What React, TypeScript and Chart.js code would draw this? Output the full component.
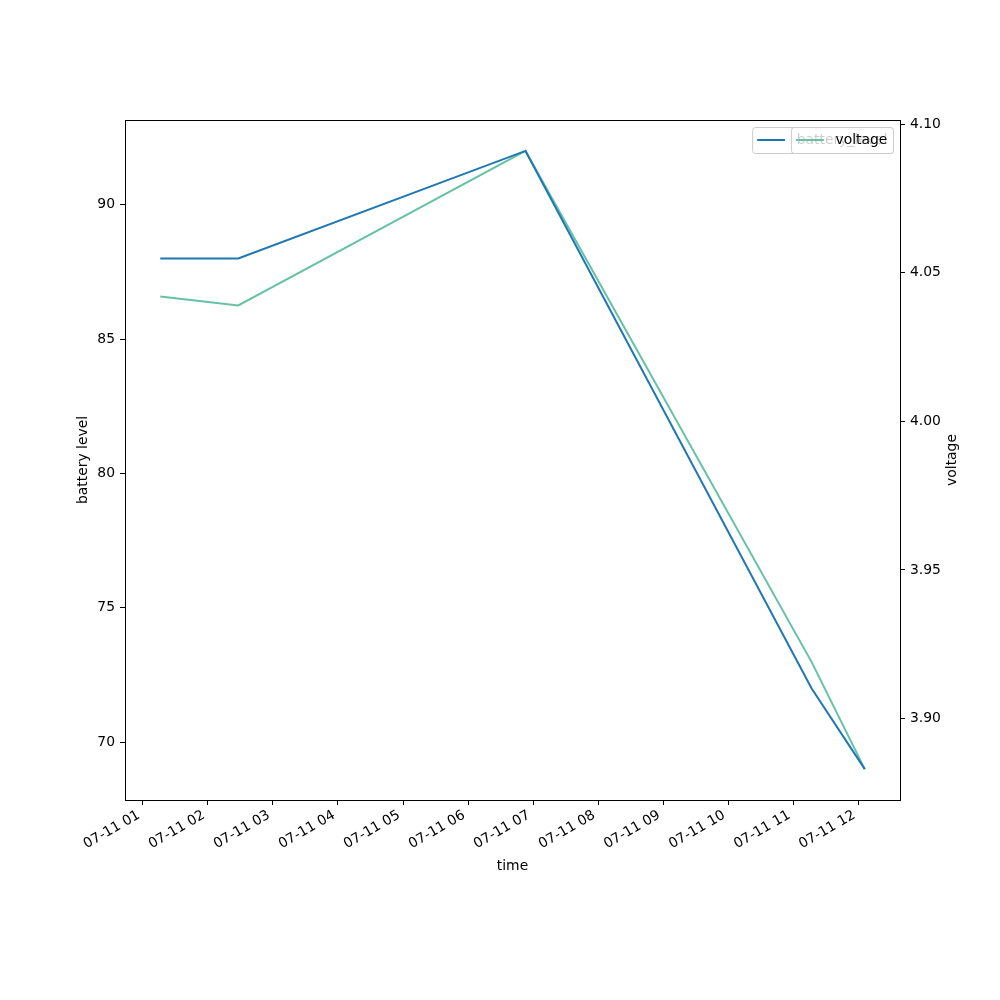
import React, { useEffect, useRef } from 'react';
import { Chart, registerables } from 'chart.js';

Chart.register(...registerables);

// readings taken on 07-11
const times = ['07-11 01:16', '07-11 02:28', '07-11 06:53', '07-11 11:17', '07-11 12:06'];
const batteryLevel = [88, 88, 92, 72, 69];
const voltage = [4.042, 4.039, 4.091, 3.919, 3.883];

const hourTicks = [1, 2, 3, 4, 5, 6, 7, 8, 9, 10, 11, 12];
const batteryTicks = [70, 75, 80, 85, 90];
const voltageTicks = [3.9, 3.95, 4.0, 4.05, 4.1];

const BLUE = '#1f77b4';
const GREEN = '#66c2a5';
const FONT_FAMILY = '"DejaVu Sans", sans-serif';
const FONT_SIZE = 13.9;

const toHours = (t: string) => {
  const hm = t.split(' ')[1];
  const [h, m] = hm.split(':').map(Number);
  return h + m / 60;
};

// matplotlib-like 5% margins
const padRange = (vals: number[]) => {
  const lo = Math.min(...vals);
  const hi = Math.max(...vals);
  const m = (hi - lo) * 0.05;
  return [lo - m, hi + m];
};

const decorations = {
  id: 'decorations',
  afterDraw(chart: any) {
    const { ctx, chartArea: a } = chart;
    ctx.save();

    // frame
    ctx.strokeStyle = '#000';
    ctx.lineWidth = 1;
    ctx.strokeRect(Math.round(a.left) + 0.5, Math.round(a.top) + 0.5,
      Math.round(a.right - a.left), Math.round(a.bottom - a.top));

    // axis titles
    ctx.fillStyle = '#000';
    ctx.font = `${FONT_SIZE}px ${FONT_FAMILY}`;
    ctx.textAlign = 'center';
    ctx.textBaseline = 'middle';
    const midY = (a.top + a.bottom) / 2;
    ctx.fillText('time', (a.left + a.right) / 2, a.bottom + 66);
    ctx.save();
    ctx.translate(a.left - 42, midY);
    ctx.rotate(-Math.PI / 2);
    ctx.fillText('battery level', 0, 0);
    ctx.restore();
    ctx.save();
    ctx.translate(a.right + 52, midY);
    ctx.rotate(-Math.PI / 2);
    ctx.fillText('voltage', 0, 0);
    ctx.restore();

    // two overlapping legends (one per axis), both anchored upper right
    const drawLegend = (label: string, color: string) => {
      ctx.font = `${FONT_SIZE}px ${FONT_FAMILY}`;
      const tw = ctx.measureText(label).width;
      const right = a.right - 7;
      const top = a.top + 7;
      const h = 26;
      const w = 5.6 + 28 + 11 + tw + 5.6;
      const left = right - w;
      ctx.beginPath();
      ctx.roundRect(left + 0.5, top + 0.5, w, h, 3);
      ctx.fillStyle = 'rgba(255,255,255,0.8)';
      ctx.fill();
      ctx.strokeStyle = '#cccccc';
      ctx.lineWidth = 1;
      ctx.stroke();
      const cy = top + h / 2;
      ctx.beginPath();
      ctx.moveTo(left + 5, cy);
      ctx.lineTo(left + 33, cy);
      ctx.strokeStyle = color;
      ctx.lineWidth = 2;
      ctx.stroke();
      ctx.fillStyle = '#000';
      ctx.textAlign = 'left';
      ctx.textBaseline = 'middle';
      ctx.fillText(label, left + 44.6, cy);
    };
    drawLegend('battery_level', BLUE);
    drawLegend('voltage', GREEN);

    ctx.restore();
  },
};

const App: React.FC = () => {
  const chartRef = useRef<HTMLCanvasElement | null>(null);

  useEffect(() => {
    if (!chartRef.current) return;
    const hours = times.map(toHours);
    const [xMin, xMax] = padRange(hours);
    const [bMin, bMax] = padRange(batteryLevel);
    const [vMin, vMax] = padRange(voltage);
    const font = { family: FONT_FAMILY, size: FONT_SIZE };

    const tickStyle = { color: '#000', padding: 5, font };
    const gridStyle = { drawOnChartArea: false, tickLength: 5, color: '#000', lineWidth: 1 };

    const chart = new Chart(chartRef.current, {
      type: 'line',
      data: {
        datasets: [
          {
            label: 'battery_level',
            data: hours.map((x, i) => ({ x, y: batteryLevel[i] })),
            borderColor: BLUE,
            borderWidth: 2,
            pointRadius: 0,
            tension: 0,
            yAxisID: 'y',
          },
          {
            label: 'voltage',
            data: hours.map((x, i) => ({ x, y: voltage[i] })),
            borderColor: GREEN,
            borderWidth: 2,
            pointRadius: 0,
            tension: 0,
            yAxisID: 'y1',
          },
        ],
      },
      options: {
        animation: false,
        responsive: false,
        layout: { padding: { top: 120, left: 0, right: 0, bottom: 0 } },
        plugins: {
          legend: { display: false },
          tooltip: { enabled: false },
        },
        scales: {
          x: {
            type: 'linear',
            min: xMin,
            max: xMax,
            afterBuildTicks: (s: any) => { s.ticks = hourTicks.map((value) => ({ value })); },
            afterFit: (s: any) => { s.height = 200; },
            ticks: {
              ...tickStyle,
              padding: 2,
              labelOffset: -4,
              autoSkip: false,
              minRotation: 30,
              maxRotation: 30,
              callback: (v: any) => `07-11 ${String(v).padStart(2, '0')}`,
            },
            grid: gridStyle,
            border: { display: false },
          },
          y: {
            type: 'linear',
            position: 'left',
            min: bMin,
            max: bMax,
            afterBuildTicks: (s: any) => { s.ticks = batteryTicks.map((value) => ({ value })); },
            afterFit: (s: any) => { s.width = 125; },
            ticks: { ...tickStyle, callback: (v: any) => String(v) },
            grid: gridStyle,
            border: { display: false },
          },
          y1: {
            type: 'linear',
            position: 'right',
            min: vMin,
            max: vMax,
            afterBuildTicks: (s: any) => { s.ticks = voltageTicks.map((value) => ({ value })); },
            afterFit: (s: any) => { s.width = 100; },
            ticks: { ...tickStyle, callback: (v: any) => Number(v).toFixed(2) },
            grid: gridStyle,
            border: { display: false },
          },
        },
      },
      plugins: [decorations],
    } as any);

    return () => {
      chart.destroy();
    };
  }, []);

  return (
    <div style={{ position: 'absolute', left: 0, top: 0, width: 1000, height: 1000, background: '#fff' }}>
      <canvas ref={chartRef} width={1000} height={1000} style={{ width: 1000, height: 1000 }} />
    </div>
  );
};

export default App;
